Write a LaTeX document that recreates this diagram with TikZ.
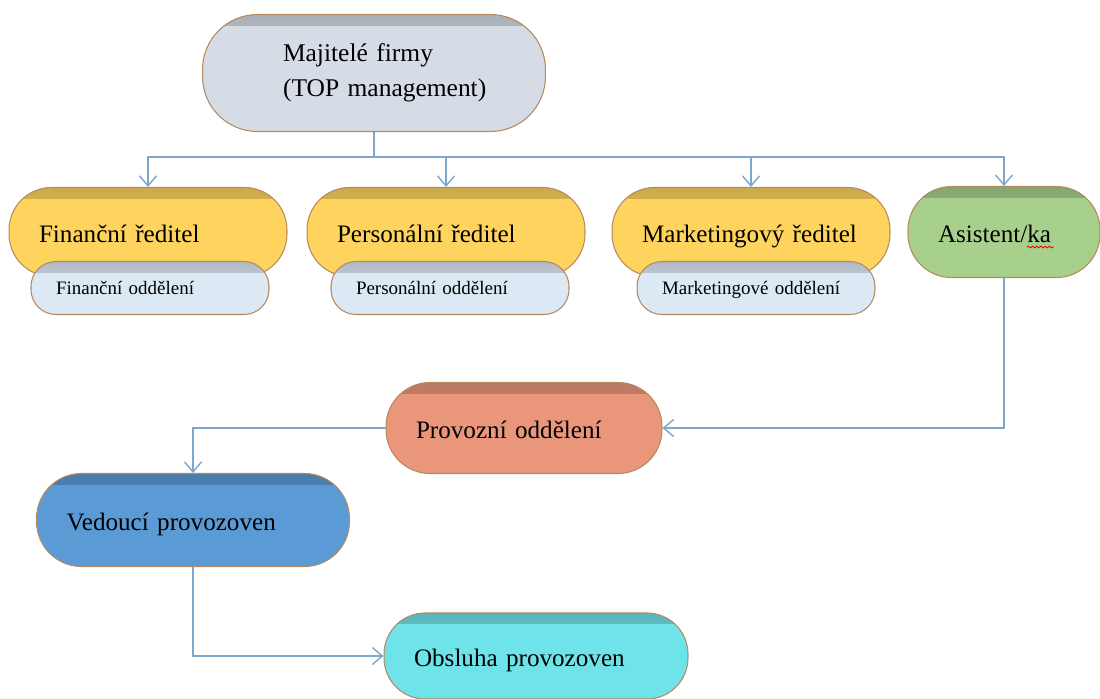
\documentclass[tikz,border=0pt]{standalone}
\usepackage{fontspec}
\setmainfont{Liberation Serif}
\usepackage{tikz}
\usetikzlibrary{arrows.meta,positioning,decorations.pathmorphing}

\definecolor{topgray}{HTML}{D5DCE6}
\definecolor{boss}{HTML}{FFD45E}
\definecolor{dept}{HTML}{DDE8F5}
\definecolor{asist}{HTML}{A6D08B}
\definecolor{provoz}{HTML}{E9967B}
\definecolor{vedouci}{HTML}{5B9BD5}
\definecolor{obsluha}{HTML}{6FE3EA}
\definecolor{rim}{HTML}{B58A5E}
\definecolor{wire}{HTML}{7FA6CD}

\begin{document}
\begin{tikzpicture}[x=0.02cm, y=-0.02cm,
    >={Straight Barb[length=2mm,width=3.4mm]},
    pill/.style={draw=rim, line width=0.6pt, align=left, inner xsep=0.6cm, fill=#1,
      path picture={\shade[sharp corners, top color=#1!80!black, bottom color=#1]
        (path picture bounding box.north west) rectangle ([yshift=-6pt]path picture bounding box.north east);},
      font=\fontsize{14.3}{18}\selectfont},
    box/.style={pill=#1, text height=12.5pt, text depth=1.1pt},
    sub/.style={pill=dept, inner xsep=0.5cm, text height=8.5pt, text depth=1.5pt,
      font=\fontsize{10.8}{13}\selectfont},
    wire/.style={draw=wire, line width=0.8pt}]
  \useasboundingbox (0,0) rectangle (1100,698);
  \fill[white] (0,0) rectangle (1100,698);

  \node (top) [pill=topgray, minimum width=6.86cm, minimum height=2.34cm, rounded corners=1.1cm, text width=3.64cm,
    font=\fontsize{14.5}{20}\selectfont] at (374,73) {Majitelé firmy\\\mbox{(TOP management)}};

  % reditele
  \node (fin) [box=boss, text width=4.36cm, minimum height=1.78cm, rounded corners=0.85cm] at (148,232) {Finanční ředitel};
  \node (pers) [box=boss, text width=4.36cm, minimum height=1.78cm, rounded corners=0.85cm] at (446,232) {Personální ředitel};
  \node (mark) [box=boss, text width=4.36cm, minimum height=1.78cm, rounded corners=0.85cm] at (751,232) {Marketingový ředitel};
  \node (asis) [box=asist, text width=2.64cm, minimum height=1.82cm, rounded corners=0.87cm] at (1004,232) {Asistent/ka};

  % oddeleni
  \node (finodd) [sub, text width=3.76cm, minimum height=1.06cm, rounded corners=0.5cm] at (150,288) {Finanční oddělení};
  \node (persodd) [sub, text width=3.76cm, minimum height=1.06cm, rounded corners=0.5cm] at (450,288) {Personální oddělení};
  \node (markodd) [sub, text width=3.76cm, minimum height=1.06cm, rounded corners=0.5cm] at (756,288) {Marketingové oddělení};

  \node (prov) [box=provoz, text width=4.32cm, minimum height=1.82cm, rounded corners=0.88cm] at (524,428) {Provozní oddělení};
  \node (ved) [box=vedouci, text width=5.06cm, minimum height=1.86cm, rounded corners=0.9cm] at (193,520) {Vedoucí provozoven};
  \node (obs) [box=obsluha, text width=4.88cm, minimum height=1.72cm, rounded corners=0.82cm] at (536,656) {Obsluha provozoven};

  \coordinate (bus) at (374,157);
  \draw[wire] (top) -- (bus);
  \foreach \n in {fin,pers,mark,asis}
    \draw[wire,->] (bus) -| (\n);
  \draw[wire,->] (asis) |- (prov);
  \draw[wire,->] (prov) -| (ved);
  \draw[wire,->] (ved) |- (obs);

  % kontrola pravopisu
  \draw[red, line width=0.5pt, decorate, decoration={snake, amplitude=0.5pt, segment length=2.4pt}]
    ([shift={(23,15)}]asis.center) -- ([shift={(50,15)}]asis.center);
\end{tikzpicture}
\end{document}
